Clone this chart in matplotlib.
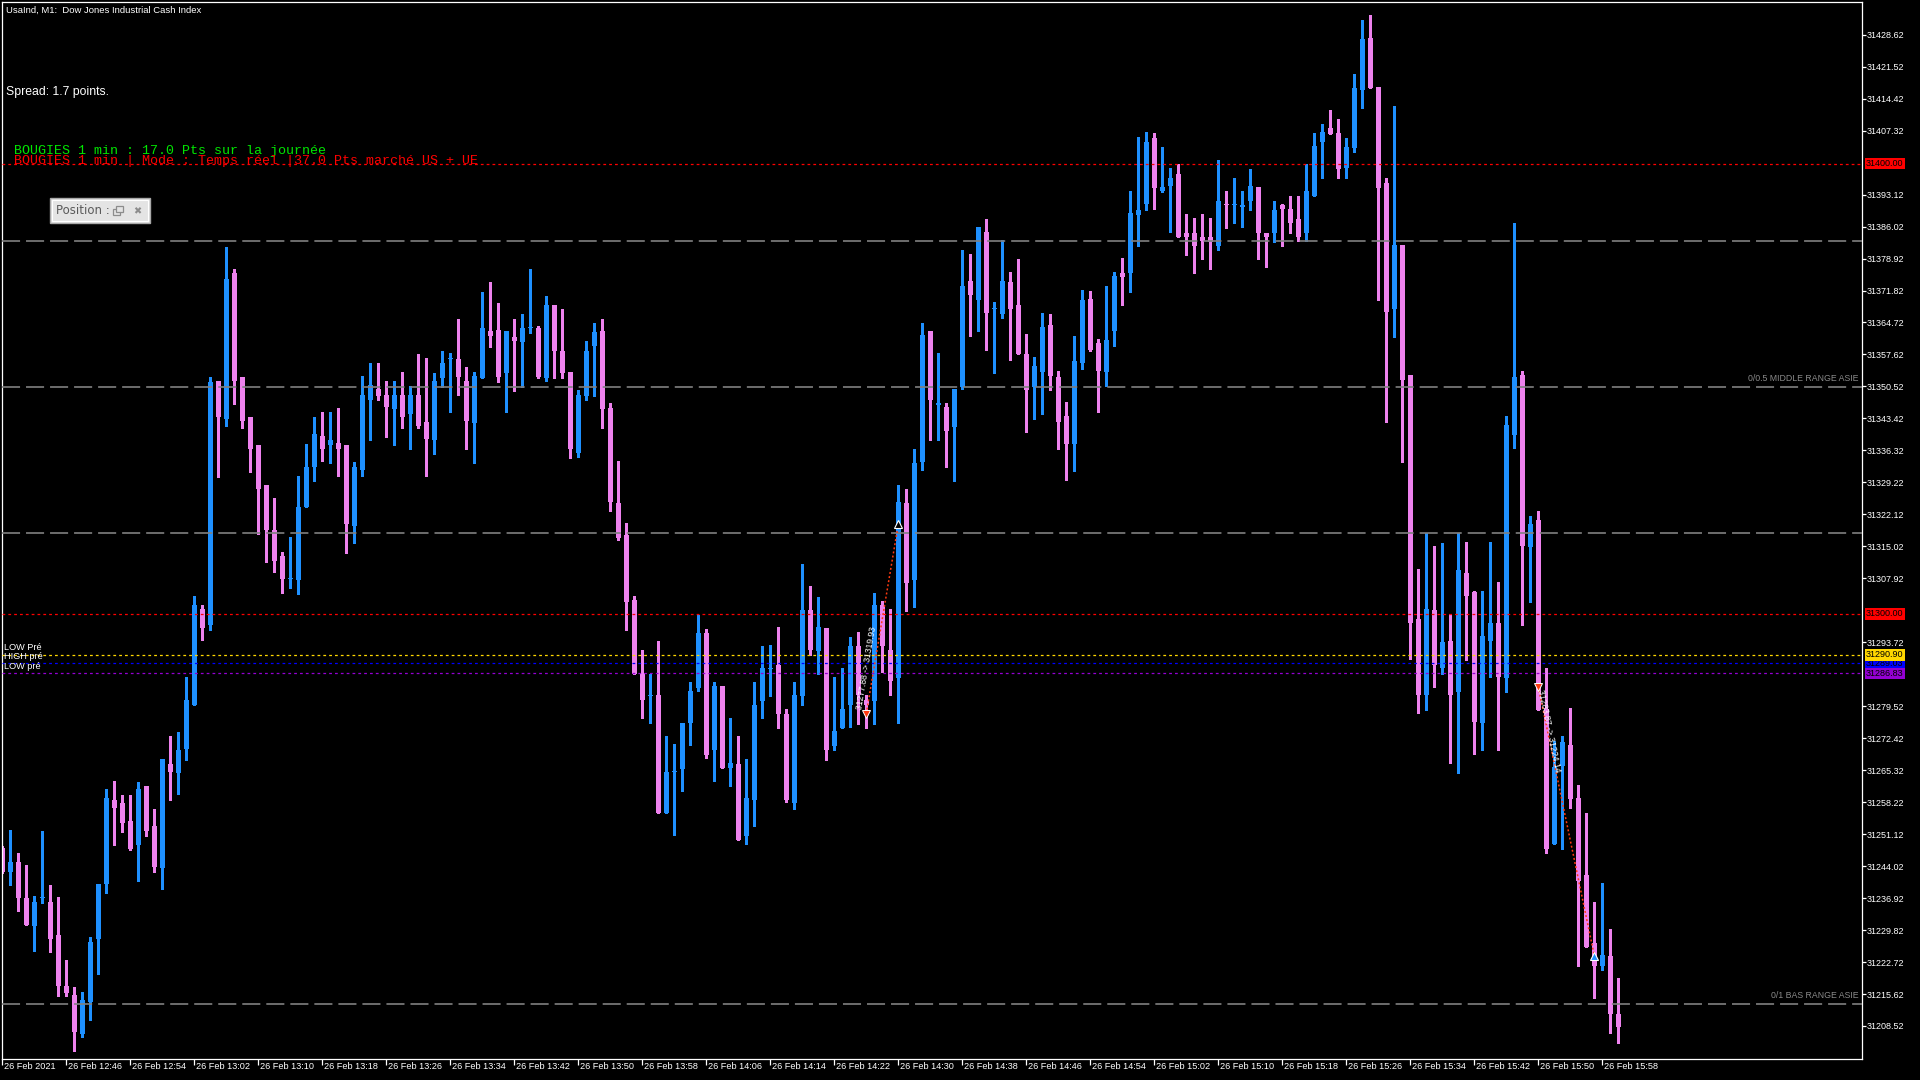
import numpy as np
import matplotlib
matplotlib.use("Agg")
import matplotlib.pyplot as plt
import matplotlib.transforms as mtransforms
from matplotlib.patches import Rectangle

plt.rcParams['font.family'] = ['Liberation Sans', 'DejaVu Sans']
plt.rcParams['lines.scale_dashes'] = False

# UsaInd M1, 26 Feb 2021, 12:38 -> 16:00 (one row per minute)
opens = [31248.0, 31242.8, 31244.9, 31237.0, 31230.7, 31236.9, 31236.1, 31228.8, 31217.3, 31215.3,
         31206.7, 31213.9, 31227.8, 31240.0, 31258.8, 31258.0, 31254.1, 31248.8, 31261.9, 31252.9,
         31243.7, 31266.8, 31264.8, 31270.0, 31279.8, 31301.0, 31297.5, 31351.8, 31343.4, 31375.7,
         31352.6, 31343.7, 31337.6, 31328.7, 31318.7, 31312.8, 31307.7, 31307.6, 31323.7, 31332.6,
         31339.6, 31337.5, 31338.0, 31337.6, 31319.5, 31331.9, 31347.6, 31349.9, 31348.7, 31345.6,
         31348.6, 31344.5, 31348.6, 31342.7, 31338.6, 31352.5, 31356.6, 31356.6, 31351.7, 31342.5,
         31352.5, 31362.8, 31363.0, 31353.6, 31361.6, 31360.4, 31363.4, 31363.6, 31352.5, 31368.5,
         31358.5, 31353.7, 31335.8, 31348.5, 31359.5, 31362.8, 31345.8, 31324.7, 31317.6, 31303.1,
         31287.0, 31281.8, 31282.0, 31255.7, 31264.9, 31265.6, 31275.8, 31283.6, 31295.8, 31269.9,
         31283.9, 31265.9, 31266.8, 31250.8, 31258.7, 31280.6, 31287.8, 31288.7, 31277.9, 31258.1,
         31281.8, 31300.9, 31291.7, 31296.9, 31270.7, 31274.7, 31279.8, 31292.9, 31280.8, 31280.6,
         31302.0, 31292.1, 31285.7, 31324.7, 31307.6, 31333.7, 31362.8, 31346.5, 31345.9, 31341.5,
         31350.4, 31374.0, 31369.8, 31384.8, 31367.7, 31366.7, 31373.8, 31368.7, 31357.8, 31350.5,
         31353.7, 31364.1, 31352.7, 31343.9, 31337.8, 31355.7, 31370.0, 31360.1, 31353.7, 31362.8,
         31375.7, 31375.6, 31388.6, 31391.0, 31405.7, 31393.9, 31395.0, 31397.8, 31384.7, 31384.7,
         31383.7, 31383.7, 31381.7, 31391.0, 31390.7, 31390.4, 31391.7, 31394.9, 31384.7, 31384.6,
         31390.7, 31389.9, 31387.8, 31384.6, 31392.8, 31404.7, 31408.0, 31406.8, 31399.0, 31403.5,
         31416.4, 31427.9, 31417.0, 31395.8, 31367.7, 31382.0, 31353.0, 31298.9, 31282.0, 31300.9,
         31288.1, 31294.0, 31282.6, 31309.1, 31304.8, 31275.7, 31293.9, 31298.0, 31285.7, 31339.8,
         31353.0, 31314.8, 31320.8, 31278.9, 31248.9, 31266.3, 31270.9, 31259.1, 31242.0, 31226.9,
         31221.9, 31224.0, 31211.2]
highs = [31248.5, 31252.0, 31247.0, 31244.3, 31237.4, 31251.8, 31239.8, 31237.1, 31223.2, 31217.2,
         31216.0, 31228.2, 31240.1, 31261.1, 31263.0, 31259.9, 31259.9, 31262.8, 31261.9, 31256.8,
         31267.8, 31272.8, 31273.8, 31285.9, 31304.1, 31302.0, 31352.7, 31351.8, 31381.5, 31376.7,
         31352.6, 31343.7, 31337.6, 31328.7, 31325.8, 31313.8, 31317.0, 31330.6, 31337.7, 31343.7,
         31344.8, 31344.8, 31345.8, 31337.6, 31333.7, 31352.8, 31355.8, 31355.7, 31351.8, 31351.7,
         31353.7, 31350.6, 31357.7, 31356.8, 31353.5, 31358.5, 31357.9, 31365.6, 31354.8, 31353.7,
         31371.6, 31373.6, 31369.0, 31362.8, 31365.6, 31366.7, 31376.7, 31363.9, 31370.5, 31368.5,
         31367.8, 31353.7, 31349.7, 31360.5, 31364.5, 31365.6, 31346.8, 31334.0, 31320.1, 31304.0,
         31291.9, 31286.7, 31293.9, 31273.0, 31271.1, 31275.8, 31285.0, 31299.8, 31296.7, 31285.0,
         31283.9, 31276.8, 31273.0, 31267.9, 31285.0, 31292.9, 31293.1, 31297.1, 31278.9, 31285.0,
         31311.0, 31306.2, 31303.7, 31296.9, 31286.0, 31288.0, 31294.8, 31296.0, 31282.0, 31304.7,
         31302.9, 31301.1, 31328.7, 31327.8, 31336.6, 31364.5, 31362.8, 31357.9, 31346.8, 31349.9,
         31380.8, 31380.0, 31385.9, 31387.8, 31369.2, 31383.0, 31376.0, 31378.9, 31362.1, 31357.0,
         31366.9, 31366.7, 31353.9, 31347.0, 31361.8, 31372.0, 31371.8, 31361.1, 31372.9, 31376.0,
         31379.1, 31393.9, 31406.0, 31407.1, 31406.8, 31403.7, 31399.0, 31399.8, 31388.8, 31387.9,
         31388.8, 31387.9, 31400.9, 31393.9, 31396.9, 31393.9, 31398.9, 31394.9, 31384.7, 31391.8,
         31391.0, 31392.9, 31392.7, 31399.9, 31406.8, 31408.8, 31411.9, 31410.0, 31405.7, 31419.9,
         31431.8, 31433.0, 31417.0, 31396.8, 31412.8, 31382.0, 31353.0, 31309.9, 31318.0, 31315.0,
         31315.7, 31299.9, 31318.0, 31315.9, 31305.0, 31305.0, 31315.9, 31307.1, 31343.9, 31386.8,
         31353.9, 31321.8, 31322.8, 31288.1, 31271.9, 31273.0, 31279.2, 31262.1, 31255.8, 31236.0,
         31240.2, 31230.1, 31219.2]
lows = [31242.5, 31239.8, 31234.0, 31230.9, 31225.2, 31235.9, 31225.0, 31215.1, 31215.1, 31203.0,
        31206.1, 31209.8, 31220.1, 31238.0, 31248.8, 31251.6, 31247.7, 31240.8, 31250.8, 31242.6,
        31239.0, 31258.7, 31260.1, 31267.6, 31279.8, 31294.2, 31296.4, 31330.4, 31341.7, 31346.6,
        31341.3, 31331.5, 31317.7, 31311.5, 31309.4, 31304.7, 31305.7, 31304.5, 31323.7, 31329.5,
        31333.9, 31333.5, 31330.6, 31313.5, 31315.8, 31330.6, 31338.6, 31347.6, 31339.4, 31337.5,
        31341.4, 31336.6, 31341.4, 31330.6, 31335.5, 31350.4, 31344.8, 31348.7, 31336.7, 31333.5,
        31352.5, 31359.3, 31351.6, 31344.8, 31349.4, 31350.4, 31362.4, 31352.5, 31351.8, 31352.5,
        31352.5, 31334.6, 31334.9, 31347.6, 31348.5, 31341.4, 31322.8, 31316.5, 31296.5, 31286.7,
        31276.9, 31275.8, 31255.7, 31255.7, 31251.0, 31260.7, 31270.9, 31282.8, 31268.0, 31262.9,
        31265.9, 31261.8, 31249.9, 31249.0, 31252.9, 31276.9, 31281.8, 31274.7, 31258.2, 31256.7,
        31279.7, 31290.9, 31286.7, 31267.6, 31269.9, 31274.7, 31274.9, 31275.6, 31274.7, 31275.6,
        31287.1, 31282.1, 31275.9, 31300.7, 31301.6, 31331.9, 31338.6, 31338.6, 31332.6, 31329.6,
        31349.9, 31361.8, 31362.8, 31358.6, 31353.5, 31365.7, 31356.5, 31357.7, 31340.5, 31343.4,
        31344.5, 31349.8, 31336.7, 31329.8, 31331.8, 31354.5, 31358.5, 31344.8, 31350.7, 31359.5,
        31368.5, 31371.6, 31381.7, 31389.7, 31389.9, 31393.8, 31384.8, 31383.6, 31379.7, 31375.7,
        31378.9, 31376.7, 31380.8, 31385.7, 31386.8, 31385.9, 31389.7, 31378.9, 31377.0, 31382.6,
        31381.7, 31384.6, 31382.8, 31382.8, 31392.8, 31396.8, 31406.5, 31396.9, 31396.8, 31402.5,
        31412.4, 31416.7, 31369.7, 31342.7, 31361.6, 31333.8, 31289.9, 31278.0, 31278.6, 31283.7,
        31286.7, 31266.9, 31264.7, 31289.8, 31268.9, 31269.8, 31285.9, 31269.8, 31282.6, 31336.9,
        31297.6, 31302.7, 31278.6, 31246.9, 31248.9, 31247.9, 31257.0, 31221.8, 31226.0, 31214.7,
        31221.0, 31206.9, 31204.8]
closes = [31242.8, 31244.9, 31236.9, 31230.9, 31236.1, 31237.1, 31227.8, 31217.3, 31215.9, 31207.2,
          31214.2, 31227.2, 31240.1, 31259.1, 31257.0, 31253.7, 31247.9, 31261.1, 31251.8, 31243.9,
          31267.8, 31264.9, 31269.9, 31280.9, 31302.0, 31296.8, 31351.5, 31343.8, 31374.4, 31351.8,
          31342.8, 31336.7, 31327.7, 31318.6, 31311.8, 31307.8, 31307.9, 31323.8, 31332.6, 31339.9,
          31336.6, 31338.7, 31336.7, 31320.0, 31332.6, 31348.7, 31350.9, 31348.4, 31345.9, 31348.7,
          31343.7, 31348.7, 31341.7, 31338.8, 31351.7, 31355.8, 31356.8, 31352.7, 31342.8, 31352.8,
          31363.6, 31361.8, 31352.7, 31362.8, 31360.7, 31363.6, 31363.6, 31352.7, 31368.7, 31358.4,
          31353.6, 31336.6, 31348.6, 31358.5, 31362.5, 31345.6, 31324.8, 31316.9, 31302.7, 31286.7,
          31280.9, 31282.0, 31255.7, 31265.0, 31265.1, 31275.8, 31282.8, 31295.8, 31268.7, 31283.9,
          31265.9, 31267.0, 31249.9, 31259.1, 31279.9, 31288.0, 31288.1, 31277.8, 31258.6, 31282.0,
          31300.9, 31291.9, 31297.1, 31269.9, 31274.1, 31278.9, 31292.9, 31282.0, 31279.8, 31302.0,
          31292.8, 31285.1, 31324.9, 31306.9, 31333.6, 31361.9, 31347.6, 31346.8, 31340.6, 31349.9,
          31372.9, 31370.8, 31385.9, 31366.8, 31367.9, 31374.0, 31367.7, 31357.7, 31349.8, 31355.0,
          31363.8, 31352.9, 31342.7, 31337.8, 31356.1, 31369.8, 31358.7, 31354.0, 31360.9, 31375.1,
          31374.8, 31389.1, 31389.8, 31404.9, 31394.5, 31394.7, 31396.9, 31383.8, 31383.8, 31381.7,
          31382.8, 31382.6, 31391.8, 31390.8, 31390.9, 31390.7, 31395.0, 31384.6, 31383.8, 31389.8,
          31389.9, 31386.8, 31383.8, 31393.9, 31404.0, 31407.1, 31406.6, 31398.8, 31403.7, 31416.8,
          31427.6, 31416.7, 31394.5, 31367.0, 31382.0, 31352.0, 31298.1, 31282.0, 31301.1, 31288.6,
          31293.8, 31282.0, 31309.7, 31303.9, 31276.0, 31295.1, 31298.0, 31285.9, 31341.9, 31352.7,
          31315.0, 31319.9, 31278.6, 31247.8, 31266.0, 31271.6, 31259.0, 31240.8, 31226.0, 31221.9,
          31224.3, 31211.1, 31208.2]

# price scale on the right
price_ticks = [31208.52, 31215.62, 31222.72, 31229.82, 31236.92, 31244.02, 31251.12, 31258.22,
               31265.32, 31272.42, 31279.52, 31293.72, 31307.92, 31315.02, 31322.12, 31329.22,
               31336.32, 31343.42, 31350.52, 31357.62, 31364.72, 31371.82, 31378.92, 31386.02,
               31393.12, 31407.32, 31414.42, 31421.52, 31428.62]

# time scale
time_bars = list(range(0, 201, 8))
time_labels = ['26 Feb 2021', '26 Feb 12:46', '26 Feb 12:54', '26 Feb 13:02', '26 Feb 13:10',
               '26 Feb 13:18', '26 Feb 13:26', '26 Feb 13:34', '26 Feb 13:42', '26 Feb 13:50',
               '26 Feb 13:58', '26 Feb 14:06', '26 Feb 14:14', '26 Feb 14:22', '26 Feb 14:30',
               '26 Feb 14:38', '26 Feb 14:46', '26 Feb 14:54', '26 Feb 15:02', '26 Feb 15:10',
               '26 Feb 15:18', '26 Feb 15:26', '26 Feb 15:34', '26 Feb 15:42', '26 Feb 15:50',
               '26 Feb 15:58']

# horizontal levels
level_prices = [31400.00, 31300.00, 31289.03, 31290.90, 31286.83]
level_colors = ['#FF0000', '#FF0000', '#0000FF', '#FFD700', '#9400D3']
pre_labels = ['LOW Pré', 'HIGH pré', 'LOW pré']
pre_prices = [31290.90, 31289.03, 31286.83]

# asian range fibo
fib_prices = [31382.86, 31350.36, 31317.99, 31213.30]
fib_labels = ['', '0/0.5 MIDDLE RANGE ASIE', '', '0/1 BAS RANGE ASIE']

# closed trades
trade_bars = [(108, 112), (192, 199)]
trade_prices = [(31277.88, 31319.93), (31283.87, 31224.14)]
trade_end_colors = ['#000000', '#1E90FF']

BULL = '#1E90FF'
BEAR = '#EE82EE'
W, H = 1920, 1080


def fx(px):
    return px / W


def fy(py):
    return 1 - py / H


fig = plt.figure(figsize=(W / 100, H / 100), dpi=100, facecolor='black')
ax = fig.add_axes([fx(2), fy(1059), (1862 - 2) / W, (1059 - 2) / H])
ax.set_facecolor('black')

o = np.array(opens)
h = np.array(highs)
l = np.array(lows)
c = np.array(closes)
x = np.arange(len(o))
cols = np.where(c >= o, BULL, BEAR)

ax.vlines(x, l, h, colors=cols, linewidth=0.9, antialiased=False, zorder=2)
ax.bar(x, np.maximum(np.abs(c - o), 0.25), bottom=np.minimum(o, c), width=0.7,
       color=cols, linewidth=0, antialiased=False, zorder=2)

ax.set_xlim((2 - 2.3) / 8, (1862 - 2.3) / 8)
ax.set_ylim(31201.19, 31435.88)

# levels
for p in fib_prices:
    ax.axhline(p, color='#808080', linewidth=1.2, linestyle=(0, (13, 4.3)), zorder=3)
for p, col in zip(level_prices, level_colors):
    ax.axhline(p, color=col, linewidth=0.9, linestyle=(0, (2.0, 2.2)), zorder=3)

ybl = mtransforms.blended_transform_factory(ax.transAxes, ax.transData)
for p, t in zip(fib_prices, fib_labels):
    if t:
        ax.text((1859 - 2) / 1860, p + 0.9, t, transform=ybl, ha='right', va='bottom',
                color='#8a8a8a', fontsize=6.3, zorder=4)
for p, t in zip(pre_prices, pre_labels):
    ax.text(1.5 / 1860, p + 1.0, t, transform=ybl, ha='left', va='baseline',
            color='white', fontsize=6.6, zorder=4)
for p, col in zip(level_prices, level_colors):
    ax.text(1.0022, p, f'{p:.2f}', transform=ybl, ha='left', va='center', color='black',
            fontsize=6.5, clip_on=False, zorder=6,
            bbox=dict(boxstyle='square,pad=0.12', fc=col, ec='none'))

# trades
for (b0, b1), (p0, p1), ec in zip(trade_bars, trade_prices, trade_end_colors):
    ax.plot([b0, b1], [p0, p1], color='#FF3A10', linewidth=1.1, linestyle=(0, (1.4, 1.6)), zorder=4)
    ax.plot(b0, p0, marker='v', markersize=6, color='#FF3A10', markeredgecolor='white',
            markeredgewidth=0.7, zorder=5)
    ax.plot(b1, p1, marker='^', markersize=6, color=ec, markeredgecolor='white',
            markeredgewidth=0.8, zorder=5)
    d0 = ax.transData.transform((b0, p0))
    d1 = ax.transData.transform((b1, p1))
    ang = np.degrees(np.arctan2(d1[1] - d0[1], d1[0] - d0[0]))
    ax.text(b0 - 0.3, p0 + 0.8 * np.sign(p1 - p0), f'{p0:.2f} -> {p1:.2f}', rotation=ang,
            rotation_mode='anchor', ha='left', va='bottom', color='white', fontsize=6.2, zorder=5)

# axes frame and scales
for s in ax.spines.values():
    s.set_color('white')
    s.set_linewidth(0.9)
ax.yaxis.tick_right()
ax.set_yticks(price_ticks)
ax.set_yticklabels([f'{v:.2f}' for v in price_ticks])
ax.tick_params(axis='y', colors='white', length=2.9, width=0.9, pad=0.8, labelsize=6.5)
ax.set_xticks(time_bars)
ax.set_xticklabels([''] * len(time_bars))
ax.tick_params(axis='x', colors='white', length=4.5, width=0.9)
for b, t in zip(time_bars, time_labels):
    ax.text(b + 0.2, -3 / 1057, t, transform=ax.get_xaxis_transform(), ha='left', va='top',
            color='white', fontsize=6.6, clip_on=False)

# chart texts
fig.text(fx(6), fy(12.5), 'UsaInd, M1:  Dow Jones Industrial Cash Index', color='white',
         fontsize=6.8, va='baseline')
fig.text(fx(6.5), fy(95), 'Spread: 1.7 points.', color='white', fontsize=8.8, va='baseline')
fig.text(fx(14), fy(154), 'BOUGIES 1 min : 17.0 Pts sur la journée', color='#00E600',
         fontsize=9.6, family='Liberation Mono', va='baseline')
fig.text(fx(14), fy(164), 'BOUGIES 1 min | Mode : Temps réel |37.0 Pts marché US + UE',
         color='#FF0000', fontsize=9.6, family='Liberation Mono', va='baseline')

# position panel
fig.patches.append(Rectangle((fx(50), fy(223)), 100 / W, 25 / H, transform=fig.transFigure,
                             fc='#E4E4E4', ec='#A8A8A8', lw=1.0, zorder=10))
fig.patches.append(Rectangle((fx(52), fy(221)), 96 / W, 21 / H, transform=fig.transFigure,
                             fc='none', ec='white', lw=0.8, zorder=10))
fig.text(fx(56), fy(211), 'Position :', color='#5A5A5A', fontsize=8.5, family='DejaVu Sans',
         va='center', zorder=11)
fig.patches.append(Rectangle((fx(113), fy(215)), 7 / W, 6 / H, transform=fig.transFigure,
                             fc='none', ec='#8C8C8C', lw=0.9, zorder=11))
fig.patches.append(Rectangle((fx(116), fy(212)), 7 / W, 6 / H, transform=fig.transFigure,
                             fc='#E4E4E4', ec='#8C8C8C', lw=0.9, zorder=11))
fig.text(fx(133), fy(211), '✖', color='#8C8C8C', fontsize=7, family='DejaVu Sans',
         va='center', zorder=11)

fig.savefig('out.png', dpi=100, facecolor='black')
